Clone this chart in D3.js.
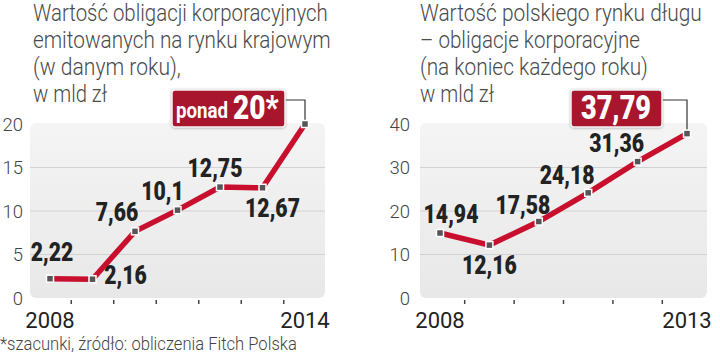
<!DOCTYPE html>
<html><head><meta charset="utf-8">
<script src="https://cdn.jsdelivr.net/npm/d3@7"></script>
<style>
html,body{margin:0;padding:0;background:#fff;}
svg{display:block;}
</style></head>
<body>
<svg id="c" width="720" height="355"></svg>
<script>
// ---- data ----
const yearsA = [2008, 2009, 2010, 2011, 2012, 2013, 2014];
const valuesA = [2.22, 2.16, 7.66, 10.1, 12.75, 12.67, 20];
const labelsA = ["2,22", "2,16", "7,66", "10,1", "12,75", "12,67", ""];
const ticksA = [0, 5, 10, 15, 20];
const titleA = ["Wartość obligacji korporacyjnych", "emitowanych na rynku krajowym", "(w danym roku),", "w mld zł"];

const yearsB = [2008, 2009, 2010, 2011, 2012, 2013];
const valuesB = [14.94, 12.16, 17.58, 24.18, 31.36, 37.79];
const labelsB = ["14,94", "12,16", "17,58", "24,18", "31,36", ""];
const ticksB = [0, 10, 20, 30, 40];
const titleB = ["Wartość polskiego rynku długu", "– obligacje korporacyjne", "(na koniec każdego roku)", "w mld zł"];

const footnote = "*szacunki, źródło: obliczenia Fitch Polska";

const svg = d3.select("#c");
const defs = svg.append("defs");
const grad = defs.append("linearGradient").attr("id","bg").attr("x1",0).attr("y1",0).attr("x2",0).attr("y2",1);
grad.append("stop").attr("offset","0%").attr("stop-color","#f4f4f4");
grad.append("stop").attr("offset","100%").attr("stop-color","#e8e8e8");
const sh = defs.append("filter").attr("id","sh").attr("x","-10%").attr("y","-10%").attr("width","120%").attr("height","130%");
sh.append("feDropShadow").attr("dx",0).attr("dy",0.5).attr("stdDeviation",0.8).attr("flood-color","#888").attr("flood-opacity",0.7);

const LIGHT = "'Roboto', 'Liberation Sans', sans-serif";
const BOLD = "'Roboto', 'Liberation Sans', sans-serif";

function fitX(el, x0, w) {
  if (!w) return;
  const len = el.getComputedTextLength();
  const s = w / len;
  el.setAttribute("x", 0);
  el.setAttribute("transform", `translate(${x0},0) scale(${s},1)`);
}

function chart(cfg) {
  const g = svg.append("g");
  const x = d3.scalePoint().domain(cfg.years).range([cfg.x0, cfg.x1]);
  const y = d3.scaleLinear().domain([0, cfg.ymax]).range([298, 124]);
  const step = x.step();

  // title
  g.append("g").selectAll("text").data(cfg.title).join("text")
    .attr("x", cfg.tx).attr("y", (d,i) => 21 + i*27)
    .attr("font-family", LIGHT).attr("font-weight", 300)
    .attr("font-size", 23).attr("fill", "#4a4a4a")
    .text(d => d)
    .each(function(d,i){ fitX(this, cfg.tx, cfg.tw[i]); });

  // background
  g.append("rect").attr("x", cfg.x0 - 20).attr("y", 123)
    .attr("width", cfg.x1 - cfg.x0 + 40).attr("height", 175)
    .attr("rx", 6).attr("fill", "url(#bg)");

  // grid
  g.append("g").selectAll("line").data(cfg.ticks.filter(t => t > 0 && t < cfg.ymax)).join("line")
    .attr("x1", cfg.x0 - 20).attr("x2", cfg.x1 + 20)
    .attr("y1", d => y(d)).attr("y2", d => y(d))
    .attr("stroke", "#d2d2d2").attr("stroke-width", 1);

  // y axis labels
  const ya = d3.axisLeft(y).tickValues(cfg.ticks).tickSize(0).tickPadding(0);
  const yg = g.append("g").attr("transform", `translate(${cfg.yl},0)`).call(ya);
  yg.select(".domain").remove();
  yg.selectAll("text").attr("font-family", LIGHT).attr("font-weight", 300)
    .attr("font-size", 18.5).attr("fill", "#444").attr("dy", "0.35em");

  // x ticks between years
  const mids = cfg.years.slice(0, -1).map(d => x(d) + step/2);
  g.append("g").selectAll("line").data(mids).join("line")
    .attr("x1", d => d).attr("x2", d => d).attr("y1", 300).attr("y2", 304)
    .attr("stroke", "#444").attr("stroke-width", 1.5);

  // x end labels
  const ends = [cfg.years[0], cfg.years[cfg.years.length-1]];
  g.append("g").selectAll("text").data(ends).join("text")
    .attr("x", d => x(d)).attr("y", 328).attr("text-anchor", "middle")
    .attr("font-family", LIGHT).attr("font-weight", 400).attr("font-size", 22)
    .attr("fill", "#222").text(d => d);

  // line
  const pts = cfg.years.map((d,i) => [x(d), y(cfg.values[i])]);
  g.append("path").attr("d", d3.line()(pts)).attr("fill", "none")
    .attr("stroke", "#c8102e").attr("stroke-width", 5.5).attr("stroke-linejoin", "miter");

  // connector to callout
  const last = pts[pts.length-1];
  g.append("path").attr("d", `M${cfg.box[0]+cfg.box[2]},100 H${last[0]} V${last[1]}`)
    .attr("fill", "none").attr("stroke", "#333").attr("stroke-width", 1.2);

  // markers
  g.append("g").selectAll("rect").data(pts).join("rect")
    .attr("x", d => d[0]-3.5).attr("y", d => d[1]-3.5).attr("width", 7).attr("height", 7)
    .attr("fill", "#555").attr("stroke", "#fff").attr("stroke-width", 1.5);

  // value labels
  g.append("g").selectAll("text").data(cfg.labels.map((l,i) => ({l, i})).filter(d => d.l)).join("text")
    .attr("font-family", BOLD).attr("font-weight", 900).attr("font-size", 26.5)
    .attr("fill", "#222")
    .attr("text-anchor", "middle")
    .attr("transform", d => `translate(${x(cfg.years[d.i]) + cfg.off[d.i][0]},${y(cfg.values[d.i]) + cfg.off[d.i][1]}) scale(0.8,1)`)
    .text(d => d.l);

  // callout
  const b = cfg.box;
  g.append("rect").attr("x", b[0]).attr("y", b[1]).attr("width", b[2]).attr("height", b[3])
    .attr("rx", 3).attr("fill", "#a8142d").attr("stroke", "#f2f2f2").attr("stroke-width", 1.5)
    .attr("filter", "url(#sh)");
  cfg.callout(g);
}

chart({
  years: yearsA, values: valuesA, labels: labelsA, ticks: ticksA, ymax: 20,
  x0: 50, x1: 305, yl: 23, tx: 33, title: titleA, tw: [295, 298, 148, 74],
  off: [[2,-18],[33,5],[-18,-10],[-15,-10],[-5,-10],[10,29]],
  box: [172, 90, 113, 37],
  callout: g => {
    g.append("text").attr("x", 0).attr("y", 0)
      .attr("transform", "translate(176,118) scale(0.85,1)")
      .attr("font-family", BOLD).attr("font-weight", 700).attr("font-size", 22)
      .attr("fill", "#fff").text("ponad");
    g.append("text").attr("x", 0).attr("y", 0)
      .attr("transform", "translate(233,119) scale(0.85,1)")
      .attr("font-family", BOLD).attr("font-weight", 900).attr("font-size", 33)
      .attr("fill", "#fff").text("20*");
  }
});

chart({
  years: yearsB, values: valuesB, labels: labelsB, ticks: ticksB, ymax: 40,
  x0: 440, x1: 687, yl: 410, tx: 420, title: titleB, tw: [282, 220, 228, 74],
  off: [[11,-10],[0,29],[-16,-8],[-21,-9],[-21,-10]],
  box: [571, 90, 91, 37],
  callout: g => {
    g.append("text").attr("x", 0).attr("y", 0)
      .attr("transform", "translate(616,119) scale(0.82,1)")
      .attr("text-anchor", "middle")
      .attr("font-family", BOLD).attr("font-weight", 900).attr("font-size", 33)
      .attr("fill", "#fff").text("37,79");
  }
});

svg.append("text").attr("x", 0).attr("y", 350)
  .attr("font-family", LIGHT).attr("font-weight", 300).attr("font-size", 18.5)
  .attr("fill", "#444").text(footnote)
  .each(function(){ fitX(this, 0, 297); });
</script>
</body></html>
